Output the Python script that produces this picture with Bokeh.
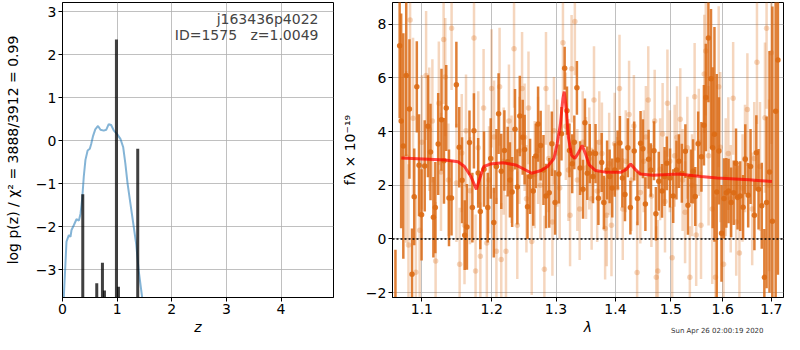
import numpy as np
from bokeh.plotting import figure
from bokeh.layouts import row
from bokeh.models import (ColumnDataSource, FixedTicker, CustomJSTickFormatter,
                          Label, Span, Title)
from bokeh.embed import file_html
from bokeh.resources import INLINE

# ---------------- left panel data: log p(z) ----------------
z_curve = [0.015, 0.024, 0.073, 0.116, 0.146, 0.165, 0.207, 0.256, 0.300, 0.330,
           0.360, 0.390, 0.420, 0.460, 0.500, 0.525, 0.560, 0.600, 0.650, 0.695,
           0.755, 0.800, 0.846, 0.890, 0.940, 1.000, 1.060, 1.110, 1.150, 1.190,
           1.240, 1.300, 1.350, 1.395, 1.457, 1.480]
logp_curve = [-4.0, -3.64, -2.35, -2.20, -2.24, -2.08, -1.97, -1.83, -1.86, -1.70,
              -1.36, -0.83, -0.45, -0.23, -0.19, -0.08, 0.11, 0.26, 0.34, 0.25,
              0.23, 0.25, 0.38, 0.36, 0.23, 0.15, 0.04, -0.15, -0.53, -0.99,
              -1.44, -1.97, -2.42, -3.03, -3.64, -4.0]
spike_z = [0.371, 0.627, 0.731, 0.768, 0.987, 1.024, 1.377]
spike_top = [-1.25, -3.32, -2.84, -3.49, 2.35, -3.40, -0.19]
spike_base = -4.0

# ---------------- right panel data: spectrum ----------------
dark_wave = [1.0644, 1.0700, 1.0720, 1.0749, 1.0788, 1.0831, 1.0866, 1.0896, 1.0931, 1.0961,
             1.0996, 1.1039, 1.1084, 1.1119, 1.1159, 1.1186, 1.1226, 1.1272, 1.1307, 1.1339,
             1.1378, 1.1414, 1.1483, 1.1524, 1.1565, 1.1603, 1.1635, 1.1672, 1.1714, 1.1737,
             1.1799, 1.1831, 1.1885, 1.1941, 1.1985, 1.2031, 1.2070, 1.2103, 1.2143, 1.2191,
             1.2241, 1.2275, 1.2309, 1.2353, 1.2389, 1.2427, 1.2472, 1.2502, 1.2547, 1.2587,
             1.2637, 1.2678, 1.2713, 1.2754, 1.2799, 1.2840, 1.2891, 1.2933, 1.2985, 1.3047,
             1.3089, 1.3141, 1.3179, 1.3220, 1.3265, 1.3300, 1.3343, 1.3396, 1.3445, 1.3477,
             1.3516, 1.3558, 1.3613, 1.3656, 1.3705, 1.3761, 1.3799, 1.3854, 1.3898, 1.3943,
             1.3987, 1.4037, 1.4077, 1.4120, 1.4166, 1.4217, 1.4262, 1.4330, 1.4388, 1.4444,
             1.4486, 1.4531, 1.4589, 1.4629, 1.4687, 1.4722, 1.4775, 1.4835, 1.4882, 1.4924,
             1.4984, 1.5043, 1.5104, 1.5151, 1.5206, 1.5273, 1.5322, 1.5377, 1.5420, 1.5462,
             1.5518, 1.5581, 1.5630, 1.5667, 1.5717, 1.5768, 1.5800, 1.5836, 1.5881, 1.5925,
             1.5976, 1.6026, 1.6072, 1.6117, 1.6169, 1.6220, 1.6267, 1.6299, 1.6352, 1.6411,
             1.6456, 1.6516, 1.6564, 1.6644, 1.6684, 1.6730, 1.6797, 1.6851, 1.6898, 1.6960,
             1.7021, 1.7090, 1.7138]
dark_flux = [-3.0, 7.2, 4.4, 3.46, 6.09, 4.84, -1.31, 1.57, 5.67, 2.75,
             0.90, 2.72, 4.2, 3.24, 0.81, 1.17, 3.54, 4.44, 2.91, 4.88,
             1.53, 1.53, 5.75, 3.42, 2.19, 0.14, 0.45, 3.59, 1.17, 4.03,
             2.46, 1.02, 2.6, 1.17, 3.0, 0.61, 2.7, 4.67, 2.52, 3.30,
             2.88, 2.2, 1.75, 4.09, 1.94, 4.58, 3.79, 3.33, 1.20, 2.33,
             1.79, 3.09, 4.28, 3.48, 2.57, 1.60, 1.72, 3.55, 1.36, 2.42,
             3.92, 6.36, 4.78, 3.3, 2.8, 3.6, 5.63, 2.64, 1.85, 4.33,
             2.45, 3.18, 2.33, 3.18, 1.52, 2.85, 1.36, 2.57, 2.33, 1.90,
             2.57, 2.94, 3.58, 2.27, 1.66, 3.40, 1.17, 3.28, 1.51, 3.57,
             3.36, 1.30, 2.97, 2.57, 3.29, 0.94, 2.15, 1.79, 2.33, 2.82,
             2.27, 1.60, 2.57, 2.90, 2.45, 3.27, 1.26, 2.33, 2.52, 1.58,
             3.55, 3.06, 4.24, 5.27, 7.49, 5.97, 3.4, 3.9, 1.75, 3.28,
             0.21, 1.51, 1.72, 1.79, 1.36, 1.72, 2.82, 1.55, 1.60, 1.18,
             2.97, 1.63, 2.70, 0.88, 3.21, 1.85, 1.24, -1.43, 1.36, 2.5,
             0.66, 4.76, 6.67]
dark_err = [2.6, 2.7, 4.0, 4.2, 3.0, 2.6, 1.7, 1.8, 1.7, 1.9,
            1.7, 1.7, 1.9, 1.8, 1.5, 1.7, 1.9, 1.9, 1.6, 1.6,
            1.8, 1.4, 1.6, 1.5, 1.6, 1.3, 1.6, 1.2, 1.3, 1.4,
            1.3, 1.4, 1.4, 1.3, 1.5, 1.3, 1.4, 1.5, 1.4, 1.5,
            1.3, 1.4, 1.3, 1.5, 1.4, 1.5, 1.4, 1.3, 1.2, 1.4,
            1.3, 1.2, 1.4, 1.3, 1.3, 1.2, 1.3, 1.2, 1.2, 1.1,
            1.0, 0.8, 0.9, 1.0, 1.1, 1.0, 1.0, 1.0, 1.1, 0.9,
            1.0, 1.1, 1.0, 1.1, 1.0, 1.1, 1.0, 1.1, 1.0, 1.1,
            1.0, 1.1, 1.0, 1.1, 1.0, 1.1, 1.0, 1.1, 1.0, 1.2,
            1.1, 1.0, 1.1, 1.0, 1.1, 1.0, 1.1, 1.0, 1.1, 1.0,
            1.1, 1.0, 1.1, 1.0, 1.1, 1.0, 1.1, 1.0, 1.2, 1.1,
            1.2, 1.3, 1.5, 2.0, 2.4, 2.6, 3.0, 4.0, 4.4, 2.0,
            1.8, 1.5, 1.3, 1.2, 1.3, 1.2, 1.3, 1.2, 1.3, 1.2,
            1.3, 1.2, 1.4, 1.3, 1.4, 1.5, 1.6, 1.8, 3.2, 4.5,
            8.0, 7.5, 8.0]

light_wave = [1.0788, 1.0818, 1.0840, 1.0880, 1.0918, 1.0970, 1.1000, 1.1058, 1.1102, 1.1145,
              1.1190, 1.1235, 1.1265, 1.1302, 1.1325, 1.1370, 1.1415, 1.1484, 1.1530, 1.1560,
              1.1600, 1.1622, 1.1680, 1.1738, 1.1761, 1.1800, 1.1831, 1.1879, 1.1927, 1.1960,
              1.1998, 1.2035, 1.2070, 1.2118, 1.2143, 1.2180, 1.2215, 1.2260, 1.2300, 1.2338,
              1.2388, 1.2420, 1.2462, 1.2502, 1.2530, 1.2562, 1.2613, 1.2660, 1.2713, 1.2750,
              1.2813, 1.2839, 1.2880, 1.2942, 1.2967, 1.3020, 1.3060, 1.3113, 1.3160, 1.3203,
              1.3230, 1.3255, 1.3309, 1.3350, 1.3389, 1.3440, 1.3495, 1.3550, 1.3590, 1.3630,
              1.3684, 1.3720, 1.3765, 1.3820, 1.3848, 1.3890, 1.3930, 1.3985, 1.4030, 1.4070,
              1.4127, 1.4180, 1.4239, 1.4280, 1.4324, 1.4382, 1.4439, 1.4500, 1.4540, 1.4583,
              1.4640, 1.4700, 1.4729, 1.4758, 1.4800, 1.4846, 1.4890, 1.4935, 1.4980, 1.5024,
              1.5070, 1.5115, 1.5176, 1.5220, 1.5267, 1.5310, 1.5358, 1.5400, 1.5450, 1.5480,
              1.5530, 1.5573, 1.5636, 1.5666, 1.5720, 1.5793, 1.5856, 1.5920, 1.5951, 1.6016,
              1.6060, 1.6112, 1.6160, 1.6209, 1.6271, 1.6336, 1.6400, 1.6450, 1.6499, 1.6598,
              1.6640, 1.6697, 1.6760, 1.6864, 1.6898, 1.6950, 1.7000]
light_flux = [3.06, -0.22, 8.16, 4.5, -1.24, 0.33, 3.6, 6.09, 4.09, 4.40,
              -0.82, 5.06, 2.5, 7.43, 6.03, 2.2, 7.85, 2.09, -0.94, 3.2,
              0.51, 4.03, 1.8, 7.49, -1.19, 3.4, -0.64, 4.88, -0.15, 2.2,
              5.61, 3.8, -0.46, 5.67, -0.76, 2.9, -0.46, 4.4, 2.6, 7.09,
              0.51, 3.3, 5.61, 3.79, 1.5, 4.88, -0.09, 2.4, 3.30, 2.0,
              -1.13, 5.61, 3.0, 0.63, 4.03, 3.2, 1.9, 7.31, 4.2, 2.57,
              0.88, 6.34, 8.10, 2.2, 1.12, 3.6, 2.64, 3.0, 1.5, 5.18,
              1.79, 3.6, 3.18, 0.39, 0.88, 2.8, 0.51, 3.55, 1.9, 5.61,
              1.12, 2.9, 4.64, 2.2, 4.21, -1.25, 1.73, 2.9, 3.8, 5.18,
              1.6, 4.40, -1.43, -1.19, 2.6, 3.91, 1.4, 5.06, 2.9, -0.70,
              3.1, 3.79, 4.46, 2.2, 1.00, 3.4, -1.43, 2.0, 5.30, 0.15,
              3.6, 0.51, 6.15, 7.00, 3.1, 1.12, -1.43, 5.67, 3.42, -0.94,
              2.3, 3.18, 1.5, 5.24, 0.63, -0.52, 1.9, 3.0, 4.82, 1.12,
              3.0, 6.58, 2.7, 4.52, 7.85, 2.0, 6.94]
light_err = [3.2, 3.0, 3.4, 3.0, 2.8, 2.6, 2.5, 2.4, 2.3, 2.3,
             2.2, 2.3, 2.2, 2.4, 2.2, 2.1, 2.3, 2.2, 2.1, 2.2,
             2.2, 2.1, 2.0, 2.3, 2.1, 2.1, 2.0, 2.2, 2.1, 2.0,
             2.2, 2.1, 2.0, 2.2, 2.1, 2.0, 2.1, 2.1, 2.0, 2.2,
             2.0, 2.0, 2.1, 2.0, 2.0, 2.1, 2.0, 2.0, 2.0, 2.0,
             2.0, 2.1, 2.0, 2.0, 2.0, 2.0, 1.9, 2.0, 2.0, 1.9,
             1.9, 2.0, 2.0, 1.9, 1.9, 1.9, 1.9, 1.9, 1.9, 2.0,
             1.9, 1.9, 1.9, 1.9, 1.9, 1.9, 1.9, 1.9, 1.9, 2.0,
             1.9, 1.9, 2.0, 1.9, 1.9, 1.9, 1.9, 1.9, 1.9, 2.0,
             1.9, 1.9, 1.9, 1.9, 1.9, 1.9, 1.9, 2.0, 1.9, 1.9,
             1.9, 1.9, 1.9, 1.9, 1.9, 1.9, 1.9, 1.9, 2.0, 1.9,
             2.0, 2.0, 2.2, 2.4, 2.6, 2.8, 3.0, 3.0, 2.8, 2.4,
             2.2, 2.1, 2.0, 2.1, 2.0, 2.0, 2.0, 2.0, 2.1, 2.1,
             2.1, 2.3, 2.4, 2.8, 3.0, 3.2, 3.4]

model_wave = [1.0722, 1.1325, 1.1507, 1.1600, 1.1692, 1.1773, 1.1825, 1.1882, 1.1977, 1.2167,
              1.2362, 1.2510, 1.2611, 1.2761, 1.2864, 1.2967, 1.3018, 1.3071, 1.3112, 1.3134,
              1.3165, 1.3202, 1.3254, 1.3308, 1.3361, 1.3430, 1.3485, 1.3549, 1.3657, 1.3821,
              1.4098, 1.4182, 1.4267, 1.4353, 1.4439, 1.4670, 1.5145, 1.5573, 1.5887, 1.6531,
              1.7010]
model_flux = [3.02, 2.94, 2.88, 2.70, 2.33, 1.85, 2.27, 2.70, 2.79, 2.84,
              2.76, 2.58, 2.45, 2.55, 2.70, 3.00, 3.54, 4.27, 5.24, 5.49,
              4.88, 3.79, 3.12, 3.00, 3.18, 3.49, 3.18, 2.76, 2.55, 2.49,
              2.49, 2.58, 2.79, 2.58, 2.42, 2.37, 2.42, 2.33, 2.27, 2.21,
              2.14]

obj_name = "j163436p4022"
obj_info = "ID=1575\u00a0\u00a0\u00a0z=1.0049"
timestamp = "Sun Apr 26 02:00:19 2020"

FONT = "DejaVu Sans"
FS = "14px"
ORANGE = "#db6a14"
GRID = "#b0b0b0"


def style(p):
    p.outline_line_color = "black"
    p.outline_line_width = 1
    p.grid.grid_line_color = GRID
    p.grid.grid_line_width = 0.8
    for ax in (p.xaxis, p.yaxis):
        ax.axis_line_color = "black"
        ax.major_tick_line_color = "black"
        ax.major_tick_out = 4
        ax.major_tick_in = 0
        ax.minor_tick_line_color = None
        ax.major_label_text_font = FONT
        ax.major_label_text_font_size = FS
        ax.major_label_text_color = "black"
        ax.major_label_standoff = 2
        ax.axis_label_text_font = FONT
        ax.axis_label_text_font_size = FS
        ax.axis_label_text_color = "black"
        ax.axis_label_standoff = 2


minus_fmt = "return (tick < 0 ? '\u2212' : '') + Math.abs(tick);"

# ---------------- left figure ----------------
p1 = figure(frame_width=271, frame_height=295, min_border_left=62, min_border_right=1,
            min_border_top=2, min_border_bottom=37,
            x_range=(0, 4.96), y_range=(-3.65, 3.21),
            output_backend="svg", toolbar_location=None)
style(p1)
p1.xaxis.ticker = FixedTicker(ticks=[0, 1, 2, 3, 4])
p1.yaxis.ticker = FixedTicker(ticks=[-3, -2, -1, 0, 1, 2, 3])
p1.yaxis.formatter = CustomJSTickFormatter(code=minus_fmt)
p1.yaxis.axis_label_standoff = 12
p1.xaxis.axis_label = "z"
p1.xaxis.axis_label_text_font_style = "italic"
p1.yaxis.axis_label = "log p(z) / \u03c7\u00b2 = 3888/3912 = 0.99"
p1.yaxis.axis_label_text_font_style = "normal"

p1.line(z_curve, logp_curve, line_color="#1f77b4", line_alpha=0.55, line_width=2)
spk = ColumnDataSource(dict(z=spike_z, top=spike_top, base=[spike_base] * len(spike_z)))
p1.segment(x0="z", y0="base", x1="z", y1="top", source=spk,
           line_color="black", line_alpha=0.75, line_width=3)

p1.add_layout(Label(x=4.685, y=2.815, text=obj_name, text_align="right",
                    text_baseline="middle", text_font=FONT, text_font_size=FS))
p1.add_layout(Label(x=4.685, y=2.45, text=obj_info, text_align="right",
                    text_baseline="middle", text_font=FONT, text_font_size=FS))

# ---------------- right figure ----------------
p2 = figure(frame_width=391, frame_height=295, min_border_left=58, min_border_right=1,
            min_border_top=2, min_border_bottom=37,
            x_axis_type="log", x_range=(1.0605, 1.7258), y_range=(-2.18, 8.81),
            output_backend="svg", toolbar_location=None)
style(p2)
p2.xaxis.ticker = FixedTicker(ticks=[1.1, 1.2, 1.3, 1.4, 1.5, 1.6, 1.7], minor_ticks=[])
p2.xaxis.formatter = CustomJSTickFormatter(code="return tick.toFixed(1);")
p2.yaxis.ticker = FixedTicker(ticks=[-2, 0, 2, 4, 6, 8])
p2.yaxis.formatter = CustomJSTickFormatter(code=minus_fmt)
p2.yaxis.axis_label_standoff = 5
p2.xaxis.axis_label = "\u03bb"
p2.xaxis.axis_label_text_font_style = "italic"
p2.yaxis.axis_label = "f\u03bb \u00d7 10\u207b\u00b9\u2079"
p2.yaxis.axis_label_text_font_style = "normal"

lw = np.array(light_wave); lf = np.array(light_flux); le = np.array(light_err)
dw = np.array(dark_wave); df = np.array(dark_flux); de = np.array(dark_err)
light = ColumnDataSource(dict(x=lw, y=lf, lo=lf - le, hi=lf + le))
dark = ColumnDataSource(dict(x=dw, y=df, lo=df - de, hi=df + de))

p2.segment(x0="x", y0="lo", x1="x", y1="hi", source=light,
           line_color=ORANGE, line_alpha=0.28, line_width=2.5)
p2.scatter("x", "y", source=light, size=5.5, fill_color=ORANGE, fill_alpha=0.28,
           line_color=None)
p2.segment(x0="x", y0="lo", x1="x", y1="hi", source=dark,
           line_color=ORANGE, line_alpha=0.85, line_width=2.5)
p2.scatter("x", "y", source=dark, size=5.5, fill_color=ORANGE, fill_alpha=0.9,
           line_color=None)
p2.line(model_wave, model_flux, line_color="red", line_alpha=0.7, line_width=3)
p2.add_layout(Span(location=0, dimension="width", line_color="black",
                   line_width=1.5, line_dash="2 2"))
p2.add_layout(Title(text=timestamp, align="right", vertical_align="top",
                    text_font=FONT, text_font_size="7px",
                    text_font_style="normal", text_color="#333333", standoff=-22,
                    offset=20), "below")

layout = row(p1, p2)
open("out.html", "w").write(file_html(layout, INLINE))
